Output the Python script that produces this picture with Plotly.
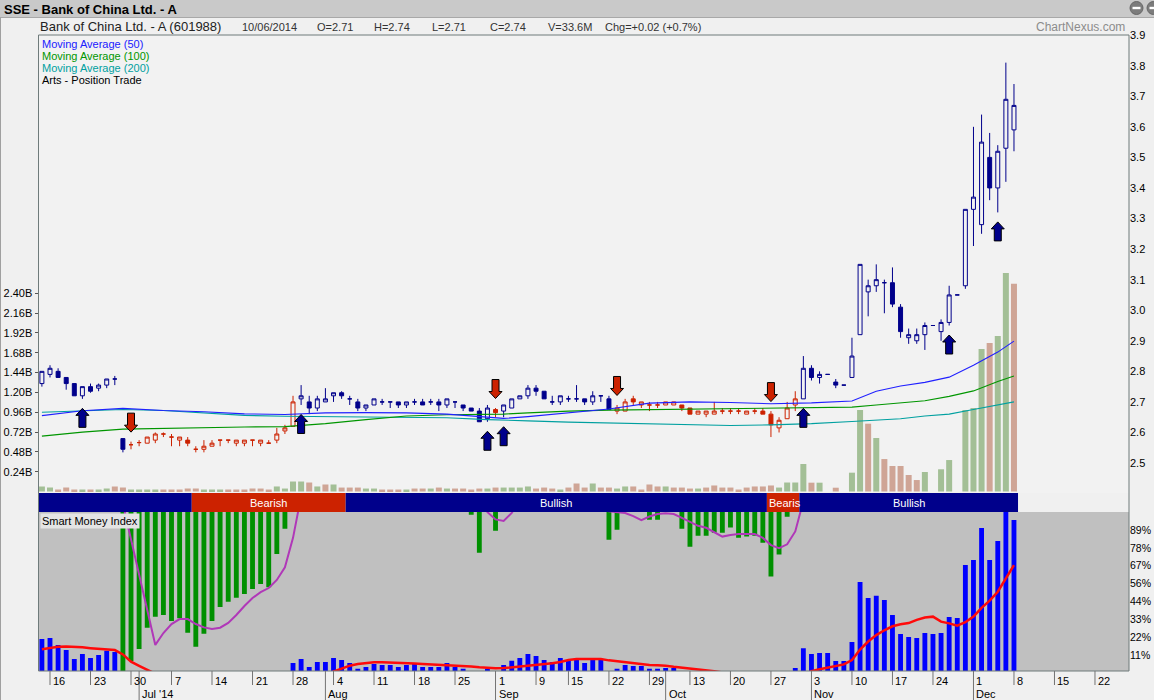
import plotly.graph_objects as go

W, H = 1154, 700

# ======================= DATA =======================
trade_days = [
    "06-13",
    "06-16", "06-17", "06-18", "06-19", "06-20",
    "06-23", "06-24", "06-25", "06-26", "06-27",
    "06-30", "07-01", "07-02", "07-03", "07-04",
    "07-07", "07-08", "07-09", "07-10", "07-11",
    "07-14", "07-15", "07-16", "07-17", "07-18",
    "07-21", "07-22", "07-23", "07-24", "07-25",
    "07-28", "07-29", "07-30", "07-31", "08-01",
    "08-04", "08-05", "08-06", "08-07", "08-08",
    "08-11", "08-12", "08-13", "08-14", "08-15",
    "08-18", "08-19", "08-20", "08-21", "08-22",
    "08-25", "08-26", "08-27", "08-28", "08-29",
    "09-01", "09-02", "09-03", "09-04", "09-05",
    "09-09", "09-10", "09-11", "09-12",
    "09-15", "09-16", "09-17", "09-18", "09-19",
    "09-22", "09-23", "09-24", "09-25", "09-26",
    "09-29", "09-30",
    "10-08", "10-09", "10-10",
    "10-13", "10-14", "10-15", "10-16", "10-17",
    "10-20", "10-21", "10-22", "10-23", "10-24",
    "10-27", "10-28", "10-29", "10-30", "10-31",
    "11-03", "11-04", "11-05", "11-06", "11-07",
    "11-10", "11-11", "11-12", "11-13", "11-14",
    "11-17", "11-18", "11-19", "11-20", "11-21",
    "11-24", "11-25", "11-26", "11-27", "11-28",
    "12-01", "12-02", "12-03", "12-04", "12-05",
    "12-08",
]
future_days = ["12-09", "12-10", "12-11", "12-12", "12-15", "12-16",
               "12-17", "12-18", "12-19", "12-22"]

opens = [
    2.76,
    2.79, 2.80, 2.78, 2.76, 2.72,
    2.75, 2.745, 2.755, 2.775, 2.58,
    2.56, 2.567, 2.565, 2.575, 2.595,
    2.585, 2.575, 2.575, 2.545, 2.545,
    2.555, 2.575, 2.575, 2.565, 2.565,
    2.575, 2.565, 2.565, 2.575, 2.605,
    2.62, 2.71, 2.70, 2.68, 2.70,
    2.72, 2.73, 2.71, 2.70, 2.68,
    2.69, 2.70, 2.70, 2.70, 2.69,
    2.70, 2.70, 2.70, 2.70, 2.69,
    2.70, 2.69, 2.68, 2.67, 2.645,
    2.675, 2.67, 2.68, 2.71, 2.72,
    2.745, 2.735, 2.70, 2.70,
    2.71, 2.71, 2.71, 2.70, 2.72,
    2.71, 2.67, 2.67, 2.71, 2.69,
    2.69, 2.69,
    2.69, 2.69, 2.69,
    2.68, 2.66, 2.66, 2.66, 2.67,
    2.67, 2.67, 2.66, 2.67, 2.67,
    2.66, 2.615, 2.645, 2.69, 2.71,
    2.81, 2.78, 2.79, 2.765, 2.755,
    2.78, 2.92, 3.06, 3.08, 3.09,
    3.09, 3.01, 2.91, 2.90, 2.92,
    2.95, 2.93, 2.96, 3.05, 3.08,
    3.33, 3.28, 3.50, 3.40, 3.53,
    3.59,
]
highs = [
    2.80,
    2.82, 2.81, 2.78, 2.76, 2.75,
    2.76, 2.76, 2.775, 2.785, 2.58,
    2.57, 2.575, 2.585, 2.60, 2.60,
    2.595, 2.585, 2.585, 2.555, 2.575,
    2.575, 2.575, 2.575, 2.575, 2.575,
    2.575, 2.575, 2.575, 2.615, 2.625,
    2.72, 2.755, 2.72, 2.72, 2.745,
    2.73, 2.735, 2.72, 2.71, 2.69,
    2.71, 2.71, 2.70, 2.70, 2.70,
    2.71, 2.71, 2.71, 2.71, 2.71,
    2.70, 2.69, 2.68, 2.68, 2.69,
    2.68, 2.69, 2.71, 2.72, 2.755,
    2.755, 2.735, 2.72, 2.72,
    2.72, 2.755, 2.71, 2.735, 2.72,
    2.72, 2.69, 2.71, 2.72, 2.70,
    2.70, 2.70,
    2.70, 2.70, 2.69,
    2.68, 2.67, 2.67, 2.70, 2.68,
    2.68, 2.68, 2.67, 2.68, 2.68,
    2.67, 2.65, 2.70, 2.735, 2.85,
    2.82, 2.80, 2.79, 2.775, 2.755,
    2.91, 3.15, 3.10, 3.15, 3.10,
    3.14, 3.02, 2.94, 2.94, 2.96,
    2.95, 2.97, 3.08, 3.05, 3.33,
    3.60, 3.64, 3.58, 3.54, 3.81,
    3.74,
]
lows = [
    2.75,
    2.78, 2.78, 2.74, 2.72, 2.71,
    2.73, 2.735, 2.745, 2.755, 2.535,
    2.545, 2.555, 2.565, 2.565, 2.585,
    2.555, 2.555, 2.555, 2.535, 2.535,
    2.555, 2.555, 2.565, 2.555, 2.555,
    2.555, 2.555, 2.565, 2.565, 2.595,
    2.62, 2.69, 2.66, 2.67, 2.70,
    2.70, 2.71, 2.69, 2.67, 2.67,
    2.69, 2.69, 2.68, 2.68, 2.68,
    2.69, 2.69, 2.69, 2.67, 2.68,
    2.68, 2.67, 2.67, 2.635, 2.635,
    2.65, 2.65, 2.68, 2.71, 2.71,
    2.72, 2.71, 2.69, 2.69,
    2.70, 2.70, 2.69, 2.69, 2.70,
    2.675, 2.66, 2.67, 2.69, 2.68,
    2.67, 2.68,
    2.69, 2.69, 2.67,
    2.66, 2.66, 2.65, 2.66, 2.66,
    2.66, 2.66, 2.66, 2.66, 2.66,
    2.585, 2.60, 2.645, 2.67, 2.71,
    2.77, 2.76, 2.79, 2.745, 2.755,
    2.78, 2.92, 2.98, 3.06, 2.99,
    3.01, 2.91, 2.89, 2.89, 2.87,
    2.95, 2.90, 2.95, 3.05, 3.07,
    3.21, 3.25, 3.36, 3.32, 3.42,
    3.52,
]
closes = [
    2.80,
    2.81, 2.78, 2.76, 2.72, 2.75,
    2.735, 2.755, 2.775, 2.775, 2.545,
    2.56, 2.567, 2.585, 2.595, 2.595,
    2.585, 2.585, 2.565, 2.545, 2.555,
    2.565, 2.575, 2.575, 2.575, 2.575,
    2.575, 2.575, 2.565, 2.595, 2.615,
    2.70, 2.72, 2.68, 2.71, 2.71,
    2.73, 2.72, 2.71, 2.68, 2.69,
    2.71, 2.70, 2.70, 2.69, 2.70,
    2.70, 2.69, 2.70, 2.69, 2.71,
    2.70, 2.68, 2.67, 2.635, 2.68,
    2.665, 2.69, 2.71, 2.72, 2.745,
    2.735, 2.71, 2.70, 2.72,
    2.71, 2.71, 2.70, 2.72, 2.72,
    2.675, 2.68, 2.70, 2.70, 2.70,
    2.69, 2.69,
    2.70, 2.70, 2.68,
    2.66, 2.67, 2.67, 2.67, 2.67,
    2.67, 2.67, 2.67, 2.67, 2.66,
    2.625, 2.64, 2.68, 2.71, 2.81,
    2.78, 2.79, 2.79, 2.755, 2.755,
    2.85, 3.15, 3.08, 3.10, 3.09,
    3.02, 2.93, 2.92, 2.92, 2.95,
    2.95, 2.96, 3.05, 3.05, 3.33,
    3.37, 3.55, 3.40, 3.52, 3.69,
    3.67,
]
volume_b = [
    0.061,
    0.048, 0.024, 0.048, 0.024, 0.024,
    0.024, 0.024, 0.036, 0.061, 0.048,
    0.024, 0.024, 0.024, 0.024, 0.024,
    0.024, 0.024, 0.036, 0.036, 0.024,
    0.024, 0.024, 0.024, 0.024, 0.024,
    0.036, 0.036, 0.024, 0.061, 0.036,
    0.121, 0.121, 0.109, 0.061, 0.085,
    0.085, 0.048, 0.048, 0.048, 0.036,
    0.036, 0.024, 0.024, 0.024, 0.024,
    0.036, 0.036, 0.036, 0.048, 0.036,
    0.036, 0.036, 0.024, 0.036, 0.036,
    0.048, 0.048, 0.048, 0.048, 0.061,
    0.036, 0.048, 0.036, 0.024,
    0.048, 0.097, 0.048, 0.097, 0.048,
    0.048, 0.036, 0.061, 0.061, 0.024,
    0.085, 0.061,
    0.061, 0.048, 0.048,
    0.036, 0.036, 0.048, 0.073, 0.048,
    0.048, 0.024, 0.048, 0.061, 0.061,
    0.073, 0.048, 0.109, 0.109, 0.333,
    0.107, 0.107, 0.0, 0.046, 0.0,
    0.228, 0.987, 0.821, 0.648, 0.393,
    0.309, 0.309, 0.200, 0.139, 0.236,
    0.0, 0.269, 0.381, 0.0, 0.987,
    1.011, 1.725, 1.798, 1.883, 2.645,
    2.516,
]

up_signals = ["06-20", "07-29", "08-29", "09-02", "10-31", "11-26", "12-04"]
down_signals = ["06-30", "09-01", "09-23", "10-27"]

band_starts = ["06-13", "07-10", "08-06", "10-27", "10-31"]
band_states = ["Bullish", "Bearish", "Bullish", "Bearish", "Bullish"]
band_texts = ["", "Bearish", "Bullish", "Bearis", "Bullish"]

ma_days = ["06-13", "06-20", "06-27", "07-04", "07-11", "07-18", "07-25", "08-01",
           "08-08", "08-15", "08-22", "08-29", "09-02", "09-05", "09-15", "09-22",
           "09-29", "10-13", "10-20", "10-27", "11-03", "11-10", "11-13", "11-18",
           "11-21", "11-26", "12-01", "12-04", "12-08"]
ma50 = [2.655, 2.671, 2.679, 2.672, 2.668, 2.661, 2.659, 2.664, 2.665, 2.664,
        2.660, 2.649, 2.646, 2.652, 2.665, 2.677, 2.696, 2.700, 2.698, 2.694,
        2.697, 2.703, 2.735, 2.752, 2.764, 2.781, 2.820, 2.863, 2.899]
ma100 = [2.588, 2.601, 2.611, 2.614, 2.617, 2.618, 2.619, 2.629, 2.642, 2.654,
         2.658, 2.659, 2.660, 2.664, 2.670, 2.673, 2.675, 2.677, 2.678, 2.679,
         2.681, 2.683, 2.690, 2.698, 2.704, 2.718, 2.736, 2.767, 2.785]
ma200 = [2.666, 2.670, 2.675, 2.672, 2.663, 2.656, 2.653, 2.652, 2.650, 2.650,
         2.648, 2.642, 2.641, 2.638, 2.634, 2.631, 2.627, 2.624, 2.623, 2.625,
         2.629, 2.636, 2.640, 2.645, 2.654, 2.660, 2.675, 2.691, 2.700]

N = None
smi_up = (
    [21.1, 21.7, 17.4, 14.3, 8.7, 11.8, 9.3, 11.1, 13.8, 13.0]
    + [N] * 21
    + [6.2, 8.6, 3.7, 6.8, 6.8, 9.3, 8.0, 6.2, 2.6, 3.7, 5.5, 4.9, 4.9, 3.7,
       4.9, 5.5, 3.7, 3.7, 3.7, 6.2, 3.7, 2.6]
    + [N, N, 2.6, N]
    + [4.9, 7.6, 9.3, 11.8, 10.5, 8.0, 6.8, 9.3, 7.6, 9.3, 6.2, 8.6, 8.6]
    + [N]
    + [2.6, 4.9, 4.3, 4.3, 2.6, 2.6, 3.1, 3.1]
    + [N] * 14
    + [3.0, 15.3, 11.8, 12.4, 12.4, 7.4, 7.4, 19.2, 56.6, 46.6, 48.0, 45.4, 36.0,
       24.2, 22.3, 21.7, 24.8, 24.2, 24.8, 34.8, 34.2, 67.1, 70.3, 90.2, 70.3,
       82.1, 100.1, 95.1]
)
smi_down = (
    [N] * 10
    + [1.2, 7.4, 14.9, 28.1, 35.0, 36.0, 32.3, 34.0, 25.0, 16.3, 24.4, 32.3,
       41.0, 44.3, 46.8, 49.1, 52.2, 55.3, 53.3, 74.0, 89.7]
    + [N] * 22
    + [98.4, 74.8, N, 88.5]
    + [N] * 13
    + [82.9, 89.1, N, N, N, 95.3, 95.3, N, N]
    + [89.7, 78.5, 85.4, 85.4, 87.2, 87.2, 90.4, 84.1, 84.8, 85.4, 81.0, 59.9,
       73.6, 97.2]
    + [N] * 28
)
smi_signal = (
    [110] * 10
    + [105]
    + [83.6, 61.5, 39.8, 17.4, 24.8, 30.4, 33.5, 33.5, 30.4, 28.3, 27.3, 28.1,
       31.1, 36.0, 41.6, 46.6, 50.2, 52.8, 57.8, 65.7, 84.0]
    + [110] * 22
    + [108, 100, 95.5, 94.5, 99.5, 108]
    + [110] * 10
    + [100.5]
    + [100, 99.5, 97.5, 95, 97.3, 98.8, 99.3, 98.8, 96.5, 94, 91.5, 90.3, 87.5,
       84.8, 85.8, 86.4, 86.4, 86.4, 84, 79.5, 77.6, 80, 88]
    + [107]
    + [110] * 26
)
smi_avg = (
    [14.7, 15.7, 16.3, 16.5, 16.3, 15.9, 15.4, 14.9, 14.4, 14.2, 11.5, 7.0, 4.4,
     1.8, -1.0, -3.0]
    + [-5.0] * 19
    + [-1.0]
    + [0.8, 2.5, 4.5, 5.5, 6.2, 6.6, 6.6, 6.3, 6.0, 5.9, 5.8, 5.6, 5.4, 5.2, 5.0,
       4.8, 4.5, 4.0, 3.5, 3.0, 2.9, 3.0, 3.5, 4.0, 4.5, 4.8, 5.3, 6.0, 6.8, 8.0,
       8.6, 8.6, 8.6, 8.6, 7.8, 7.2, 6.8, 6.3, 5.6, 4.9, 4.7, 4.5, 3.8, 3.3, 2.9,
       2.2, 1.6, 1.0, 0.3]
    + [-1.0]
    + [-5.0] * 8
    + [-1.0]
    + [1.0, 2.3, 3.4, 4.3, 5.3, 8.0, 14.5, 19.5, 23.5, 26.5, 29.0, 30.3, 31.0,
       33.0, 34.5, 35.0, 31.9, 30.8, 29.4, 31.5, 35.0, 40.5, 45.0, 50.5, 58.5,
       67.1]
)

price_ticks = [2.5, 2.6, 2.7, 2.8, 2.9, 3.0, 3.1, 3.2, 3.3, 3.4, 3.5, 3.6, 3.7, 3.8, 3.9]
volume_ticks = [0.24, 0.48, 0.72, 0.96, 1.20, 1.44, 1.68, 1.92, 2.16, 2.40]
smi_tick_labels = ["11%", "22%", "33%", "44%", "56%", "67%", "78%", "89%"]

week_ticks = ["06-16", "06-23", "06-30", "07-07", "07-14", "07-21", "07-28",
              "08-04", "08-11", "08-18", "08-25", "09-01", "09-09", "09-15",
              "09-22", "09-29", "10-13", "10-20", "10-27", "11-03", "11-10",
              "11-17", "11-24", "12-01", "12-08", "12-15", "12-22"]
month_ticks = ["07-01", "08-01", "09-01", "10-08", "11-03", "12-01"]
month_labels = ["Jul '14", "Aug", "Sep", "Oct", "Nov", "Dec"]

# ======================= LAYOUT GEOMETRY (pixels) =======================
X0, X1 = 38.5, 1129.0
MAIN_TOP, MAIN_BOT, BAND_BOT, SMI_BOT = 35.0, 493.0, 512.0, 671.0
XR = [-0.42, 134.2]
PRICE_R = [2.402, 3.9004]
VOL_R = [-0.018, 5.527]
SMI_R = [1.18, 100.1]

NAVY = "#00008b"
RED = "#cc2200"
VGREEN = "#a3bf96"
VPINK = "#cfa596"
BORDER = "#6f7b7b"
FONT = "Liberation Sans, Arial, sans-serif"


def px(v):
    return v / W


def py(v):
    return (H - v) / H


calendar = trade_days + future_days
pos = {d: i for i, d in enumerate(calendar)}
n = len(trade_days)
xs = list(range(n))

# candle colour from last signal
sig = {}
for d in up_signals:
    sig[pos[d]] = "up"
for d in down_signals:
    sig[pos[d]] = "down"
state = "up"
cstate = []
for i in xs:
    state = sig.get(i, state)
    cstate.append(state)

# trend band segments
bstart = [pos[d] for d in band_starts]
bend = [s - 1 for s in bstart[1:]] + [n - 1]
band_col = [NAVY if s == "Bullish" else RED for s in band_states]

# volume colour: close vs previous close
vcol = []
for i in xs:
    up = closes[i] >= opens[i] if i == 0 else closes[i] > closes[i - 1]
    vcol.append(VGREEN if up else VPINK)

fig = go.Figure()

# volume
fig.add_trace(go.Bar(x=xs, y=volume_b, marker=dict(color=vcol, line=dict(width=0)),
                     width=0.74, xaxis="x", yaxis="y", hoverinfo="none"))

# moving averages
ma_x = [pos[d] for d in ma_days]
for vals, col in ((ma200, "#00a0a0"), (ma100, "#009600"), (ma50, "#2020ff")):
    fig.add_trace(go.Scatter(x=ma_x, y=vals, mode="lines", line=dict(color=col, width=1.1),
                             xaxis="x", yaxis="y2", hoverinfo="none"))

# candles
for name, col in (("up", NAVY), ("down", RED)):
    idx = [i for i in xs if cstate[i] == name]
    fig.add_trace(go.Candlestick(
        x=idx, open=[opens[i] for i in idx], high=[highs[i] for i in idx],
        low=[lows[i] for i in idx], close=[closes[i] for i in idx],
        increasing=dict(line=dict(color=col, width=1), fillcolor="rgba(0,0,0,0)"),
        decreasing=dict(line=dict(color=col, width=1), fillcolor=col),
        whiskerwidth=0, xaxis="x", yaxis="y2", hoverinfo="none"))

# signal arrows
ppp = (PRICE_R[1] - PRICE_R[0]) / (MAIN_BOT - MAIN_TOP)
upx = (XR[1] - XR[0]) / (X1 - X0)
gap, head, tot = 9.5 * ppp, 7 * ppp, 19 * ppp
hw, sw = 6.5 * upx, 3.5 * upx


def add_arrow(i, is_up):
    if is_up:
        t, s, fc = lows[i] - gap, -1, NAVY
    else:
        t, s, fc = highs[i] + gap, 1, RED
    ax = [i, i - hw, i - sw, i - sw, i + sw, i + sw, i + hw, i]
    ay = [t, t + s * head, t + s * head, t + s * tot, t + s * tot, t + s * head, t + s * head, t]
    fig.add_trace(go.Scatter(x=ax, y=ay, mode="lines", fill="toself", fillcolor=fc,
                             line=dict(color="#000000", width=1), xaxis="x", yaxis="y2",
                             hoverinfo="none"))


for d in up_signals:
    add_arrow(pos[d], True)
for d in down_signals:
    add_arrow(pos[d], False)

# trend band (one bar per segment)
fig.add_trace(go.Bar(x=[(s + e) / 2 for s, e in zip(bstart, bend)],
                     y=[1] * len(bstart), base=0,
                     width=[e - s + 1 for s, e in zip(bstart, bend)],
                     marker=dict(color=band_col, line=dict(width=0)),
                     xaxis="x", yaxis="y3", hoverinfo="none"))

# smart money index
fig.add_trace(go.Bar(x=xs, y=smi_up, width=0.6, marker=dict(color="#0000ff", line=dict(width=0)),
                     xaxis="x", yaxis="y4", hoverinfo="none"))
gx = [i for i in xs if smi_down[i] is not None]
fig.add_trace(go.Bar(x=gx, y=[SMI_R[1] + 1 - smi_down[i] for i in gx],
                     base=[smi_down[i] for i in gx], width=0.6,
                     marker=dict(color="#009000", line=dict(width=0)),
                     xaxis="x", yaxis="y4", hoverinfo="none"))
fig.add_trace(go.Scatter(x=xs, y=smi_signal, mode="lines", line=dict(color="#b038b8", width=2),
                         xaxis="x", yaxis="y4", hoverinfo="none"))
fig.add_trace(go.Scatter(x=xs, y=smi_avg, mode="lines", line=dict(color="#ff0a0a", width=2.5),
                         xaxis="x", yaxis="y4", hoverinfo="none"))

# ======================= shapes & annotations =======================
shapes = [
    # title bar
    dict(type="rect", xref="paper", yref="paper", x0=0, x1=1, y0=py(17.5), y1=1,
         fillcolor="#c9c9c9", line=dict(width=0), layer="below"),
    dict(type="line", xref="paper", yref="paper", x0=0, x1=1, y0=py(17.5), y1=py(17.5),
         line=dict(color="#a8a8a8", width=1)),
    dict(type="line", xref="paper", yref="paper", x0=px(0.5), x1=px(0.5), y0=0, y1=py(17.5),
         line=dict(color="#a0a0a0", width=1)),
    # panel backgrounds
    dict(type="rect", xref="paper", yref="paper", x0=px(X0), x1=px(X1), y0=py(MAIN_BOT),
         y1=py(MAIN_TOP), fillcolor="#f2f2f2", line=dict(width=0), layer="below"),
    dict(type="rect", xref="paper", yref="paper", x0=px(X0), x1=px(X1), y0=py(SMI_BOT),
         y1=py(BAND_BOT), fillcolor="#c0c0c0", line=dict(width=0), layer="below"),
    # borders
    dict(type="line", xref="paper", yref="paper", x0=px(X0), x1=px(X1), y0=py(MAIN_TOP),
         y1=py(MAIN_TOP), line=dict(color=BORDER, width=1)),
    dict(type="line", xref="paper", yref="paper", x0=px(X0), x1=px(X0), y0=py(SMI_BOT),
         y1=py(MAIN_TOP), line=dict(color=BORDER, width=1)),
    dict(type="line", xref="paper", yref="paper", x0=px(X1), x1=px(X1), y0=py(SMI_BOT),
         y1=py(MAIN_TOP), line=dict(color=BORDER, width=1)),
    dict(type="line", xref="paper", yref="paper", x0=px(X0), x1=px(X1), y0=py(SMI_BOT),
         y1=py(SMI_BOT), line=dict(color=BORDER, width=1)),
]

# top-right window buttons
for cx in (1136.5, 1153.5):
    shapes.append(dict(type="circle", xref="paper", yref="paper", x0=px(cx - 6.5), x1=px(cx + 6.5),
                       y0=py(14.5), y1=py(1.5), fillcolor="#7c7c7c", line=dict(color="#666666", width=1)))
    shapes.append(dict(type="rect", xref="paper", yref="paper", x0=px(cx - 4), x1=px(cx + 4),
                       y0=py(9.2), y1=py(6.8), fillcolor="#ffffff", line=dict(width=0)))

annotations = []


def txt(x, y, text, size=11, color="#000000", family=FONT, anchor="left", **kw):
    annotations.append(dict(xref="paper", yref="paper", x=px(x), y=py(y), text=text,
                            showarrow=False, xanchor=anchor, yanchor="middle",
                            font=dict(size=size, color=color, family=family), **kw))


txt(2, 9, "<b>SSE - Bank of China Ltd. - A</b>", size=13)
txt(38, 26, "Bank of China Ltd. - A (601988)", size=13, color="#222222")
for x, t in ((240, "10/06/2014"), (315, "O=2.71"), (372, "H=2.74"), (430, "L=2.71"),
             (488, "C=2.74"), (546, "V=33.6M"), (603, "Chg=+0.02 (+0.7%)")):
    txt(x, 27, t, size=11, color="#333333")
txt(1127, 27, "ChartNexus.com", size=12, color="#8c8c8c", anchor="right")

txt(40, 44, "Moving Average (50)", color="#2020ff")
txt(40, 56, "Moving Average (100)", color="#009600")
txt(40, 68, "Moving Average (200)", color="#00a0a0")
txt(40, 80, "Arts - Position Trade", color="#000000")

txt(40, 520.5, "Smart Money Index", bgcolor="#e4e4e4", borderpad=1)

# band labels
for k, t in enumerate(band_texts):
    if not t:
        continue
    s, e = bstart[k], bend[k]
    if e - s >= 6:
        annotations.append(dict(xref="x", yref="paper", x=(s + e) / 2, y=py(502.5), text=t,
                                showarrow=False, xanchor="center", yanchor="middle",
                                font=dict(size=11, color="#ffffff", family=FONT)))
    else:
        annotations.append(dict(xref="x", yref="paper", x=s - 0.5, y=py(502.5), text=t,
                                showarrow=False, xanchor="left", yanchor="middle", xshift=0,
                                font=dict(size=11, color="#ffffff", family=FONT)))

# date axis
for d in week_ticks:
    if d not in month_ticks:
        shapes.append(dict(type="line", xref="x", yref="paper", x0=pos[d], x1=pos[d],
                           y0=py(685), y1=py(SMI_BOT), line=dict(color="#737373", width=1)))
    annotations.append(dict(xref="x", yref="paper", x=pos[d], y=py(681), xshift=1,
                            text=str(int(d[3:])), showarrow=False, xanchor="left",
                            yanchor="middle", font=dict(size=11, color="#000000", family=FONT)))
for d, lab in zip(month_ticks, month_labels):
    shapes.append(dict(type="line", xref="x", yref="paper", x0=pos[d], x1=pos[d],
                       y0=0, y1=py(SMI_BOT), line=dict(color="#737373", width=1)))
    annotations.append(dict(xref="x", yref="paper", x=pos[d], y=py(694), xshift=1,
                            text=lab, showarrow=False, xanchor="left", yanchor="middle",
                            font=dict(size=11, color="#000000", family=FONT)))

fig.update_layout(
    width=W, height=H, autosize=False,
    margin=dict(l=0, r=0, t=0, b=0, pad=0, autoexpand=False),
    paper_bgcolor="#f0f0f0", plot_bgcolor="rgba(0,0,0,0)",
    showlegend=False, hovermode=False, barmode="overlay",
    font=dict(family=FONT, size=11, color="#000000"),
    xaxis=dict(domain=[px(X0), px(X1)], range=XR, visible=False, fixedrange=True,
               rangeslider=dict(visible=False), anchor="y", automargin=False),
    yaxis=dict(domain=[py(MAIN_BOT), py(MAIN_TOP)], range=VOL_R, side="left",
               tickvals=volume_ticks, ticktext=[f"{v:.2f}B" for v in volume_ticks],
               ticks="outside", ticklen=3, tickcolor="#555555", showgrid=False,
               zeroline=False, showline=False, fixedrange=True, anchor="x",
               tickfont=dict(size=11), automargin=False),
    yaxis2=dict(overlaying="y", side="right", range=PRICE_R, tickvals=price_ticks,
                ticktext=[f"{v:.1f}" for v in price_ticks], ticks="",
                showgrid=False, zeroline=False, showline=False,
                fixedrange=True, anchor="x", tickfont=dict(size=11), automargin=False),
    yaxis3=dict(domain=[py(BAND_BOT), py(MAIN_BOT)], range=[0, 1], visible=False,
                fixedrange=True, anchor="x", automargin=False),
    yaxis4=dict(domain=[py(SMI_BOT), py(BAND_BOT)], range=SMI_R, side="right",
                tickvals=[100 * k / 9 for k in range(1, 9)], ticktext=smi_tick_labels,
                ticks="", showgrid=False,
                zeroline=False, showline=False, fixedrange=True, anchor="x",
                tickfont=dict(size=10.5), automargin=False),
    shapes=shapes, annotations=annotations,
)

pin_to_corner = (
    "var gd=document.getElementById('{plot_id}');"
    "document.documentElement.style.margin='0';document.body.style.margin='0';"
    "document.body.style.overflow='hidden';"
    "gd.style.position='fixed';gd.style.left='0px';gd.style.top='0px';"
)
fig.write_html("out.html", config={"displayModeBar": False}, post_script=pin_to_corner)
